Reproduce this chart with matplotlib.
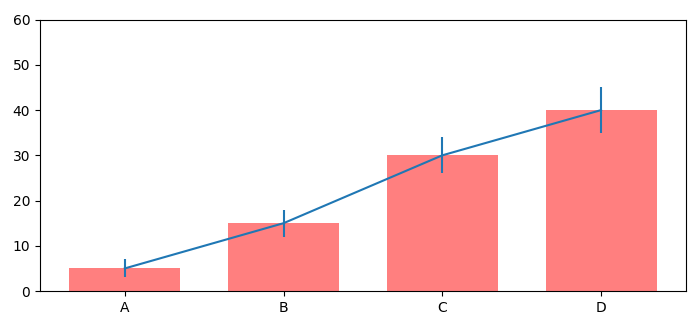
import matplotlib
matplotlib.use("Agg")
import matplotlib.pyplot as plt

labels = ['A', 'B', 'C', 'D']
values = [5, 15, 30, 40]
errors = [2, 3, 4, 5]

fig, ax = plt.subplots(figsize=(7, 3.27), dpi=100)
ax.errorbar(labels, values, yerr=errors)
ax.bar(labels, values, width=0.7, color='red', alpha=0.5)
ax.set_ylim(0, 60)
fig.subplots_adjust(left=0.057, right=0.98, top=0.94, bottom=0.11)
fig.savefig("out.png")
